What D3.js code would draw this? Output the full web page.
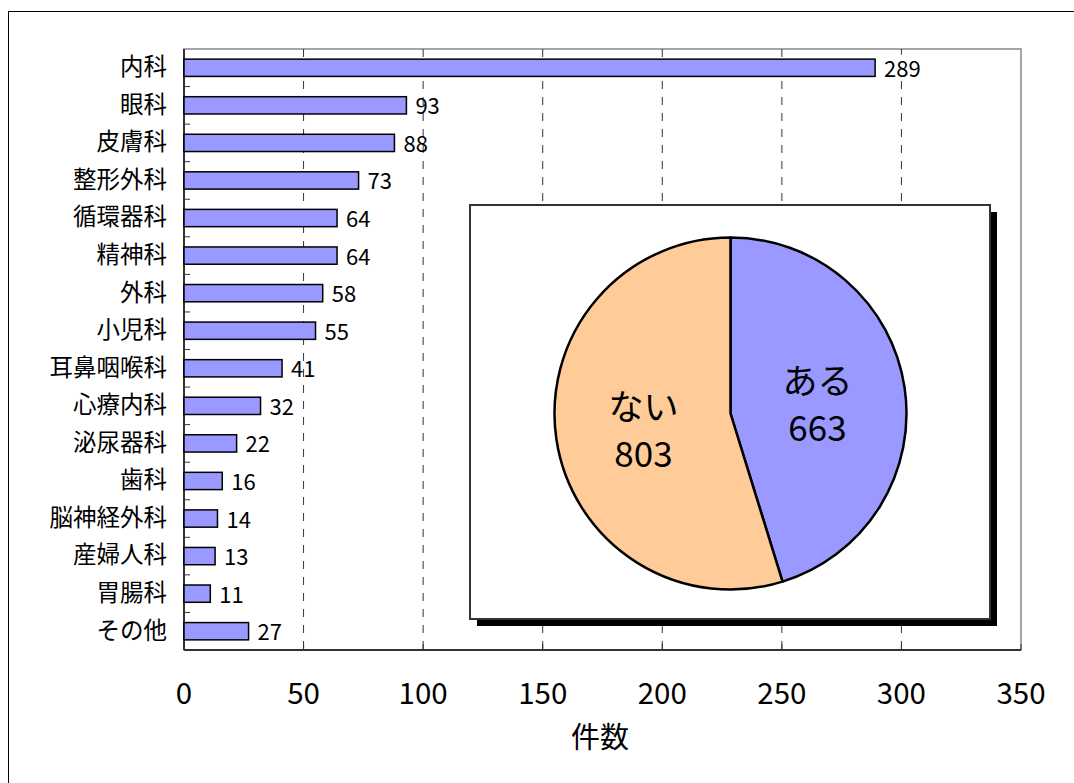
<!DOCTYPE html>
<html><head><meta charset="utf-8">
<script src="https://cdn.jsdelivr.net/npm/d3@7"></script>
<style>body{margin:0;background:#fff}svg{display:block}text{font-family:"Noto Sans CJK JP","Noto Sans",sans-serif}</style>
</head><body>
<svg id="c" width="1074" height="783"></svg>
<script>
const categories = ["内科","眼科","皮膚科","整形外科","循環器科","精神科","外科","小児科","耳鼻咽喉科","心療内科","泌尿器科","歯科","脳神経外科","産婦人科","胃腸科","その他"];
const counts = [289,93,88,73,64,64,58,55,41,32,22,16,14,13,11,27];
const xTicks = [0,50,100,150,200,250,300,350];
const pieLabels = ["ある","ない"];
const pieValues = [663,803];
const xTitle = "件数";

const svg = d3.select("#c");
svg.append("rect").attr("x",8.5).attr("y",11.5).attr("width",1200).attr("height",900)
  .attr("fill","none").attr("stroke","#000").attr("stroke-width",1);

const L=184,R=1021,T=49,B=650;
const x = d3.scaleLinear().domain([0,350]).range([L,R]);
const y = d3.scaleBand().domain(categories).range([T,B]).paddingInner(0.54).paddingOuter(0.27);

// plot border
svg.append("rect").attr("x",L).attr("y",T).attr("width",R-L).attr("height",B-T)
  .attr("fill","none").attr("stroke","#888").attr("stroke-width",1.5);

// grid
svg.append("g").selectAll("line").data(xTicks.filter(d=>d>0&&d<350)).join("line")
  .attr("x1",d=>x(d)).attr("x2",d=>x(d)).attr("y1",T).attr("y2",B)
  .attr("stroke","#333").attr("stroke-width",1).attr("stroke-dasharray","8,8");

// axes lines
svg.append("line").attr("x1",L).attr("x2",R).attr("y1",B).attr("y2",B).attr("stroke","#333").attr("stroke-width",2);
svg.append("line").attr("x1",L).attr("x2",L).attr("y1",T).attr("y2",B).attr("stroke","#333").attr("stroke-width",2);
const step = y.step();
svg.append("g").selectAll("line").data(d3.range(1,categories.length)).join("line")
  .attr("x1",L).attr("x2",L+6).attr("y1",i=>T+i*step).attr("y2",i=>T+i*step).attr("stroke","#333").attr("stroke-width",1);
svg.append("g").selectAll("line").data(xTicks).join("line")
  .attr("x1",d=>x(d)).attr("x2",d=>x(d)).attr("y1",B-6).attr("y2",B).attr("stroke","#333").attr("stroke-width",1);

// bars
svg.append("g").selectAll("rect").data(counts).join("rect")
  .attr("x",x(0)).attr("y",(d,i)=>y(categories[i]))
  .attr("width",d=>x(d)-x(0)).attr("height",y.bandwidth())
  .attr("fill","#9999FF").attr("stroke","#000").attr("stroke-width",1.5);

// value labels
const vl = svg.append("g").selectAll("g").data(counts).join("g")
  .attr("transform",(d,i)=>`translate(${x(d)+9},${y(categories[i])+y.bandwidth()/2+3})`);
vl.filter((d,i)=>i===0).append("rect").attr("x",-4).attr("y",-16).attr("width",48).attr("height",24).attr("fill","#fff");
vl.append("text").attr("dominant-baseline","middle").attr("font-size",22).attr("fill","#000").text(d=>d);

// category labels
svg.append("g").selectAll("text").data(categories).join("text")
  .attr("x",167).attr("y",d=>y(d)+y.bandwidth()/2+1).attr("text-anchor","end")
  .attr("dominant-baseline","middle").attr("font-size",23.5).text(d=>d);

// x tick labels
svg.append("g").selectAll("text").data(xTicks).join("text")
  .attr("x",d=>x(d)).attr("y",696).attr("text-anchor","middle").attr("dominant-baseline","middle")
  .attr("font-size",29.5).text(d=>d);
svg.append("text").attr("x",600).attr("y",740).attr("text-anchor","middle").attr("dominant-baseline","middle")
  .attr("font-size",29).text(xTitle);

// pie inset
const bx=470,by=205,bw=520,bh=414,sh=7;
svg.append("rect").attr("x",bx+sh).attr("y",by+sh).attr("width",bw).attr("height",bh).attr("fill","#000");
svg.append("rect").attr("x",bx).attr("y",by).attr("width",bw).attr("height",bh).attr("fill","#fff").attr("stroke","#333").attr("stroke-width",2);
const cx=730.5, cy=413.5, r=176;
const pie = d3.pie().sort(null).value(d=>d)(pieValues);
const arc = d3.arc().innerRadius(0).outerRadius(r);
const pg = svg.append("g").attr("transform",`translate(${cx},${cy})`);
const pieColors = ["#9999FF","#FFCC99"];
pg.selectAll("path").data(pie).join("path").attr("d",arc).attr("fill",(d,i)=>pieColors[i])
  .attr("stroke","#000").attr("stroke-width",2.5).attr("stroke-linejoin","round");
const lg = svg.append("g").selectAll("g").data(pie).join("g")
  .attr("transform",(d,i)=>{const c=arc.centroid(d);return `translate(${cx+c[0]},${cy+c[1]})`;});
lg.append("text").attr("text-anchor","middle").attr("dominant-baseline","middle").attr("y",-16).attr("font-size",35)
  .text((d,i)=>pieLabels[i]);
lg.append("text").attr("text-anchor","middle").attr("dominant-baseline","middle").attr("y",31).attr("font-size",35)
  .text(d=>d.value);
</script>
</body></html>
